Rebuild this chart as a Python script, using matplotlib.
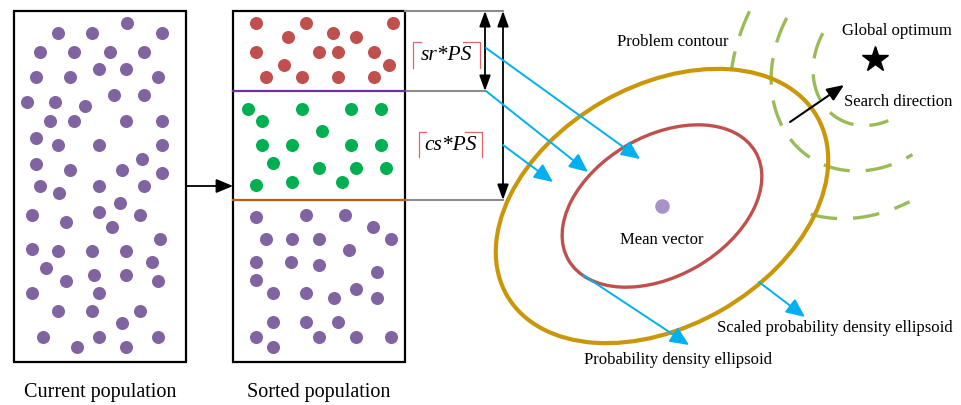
import numpy as np
import matplotlib
matplotlib.use("Agg")
import matplotlib.pyplot as plt
from matplotlib.patches import Ellipse, Rectangle

plt.rcParams["font.family"] = ["Liberation Serif", "DejaVu Serif"]

# individuals in the current population (pixel positions)
cur_x = [127, 58, 92, 162, 40, 74, 110, 144, 99, 126, 36, 70, 158, 114, 144, 27, 55, 85,
         50, 74, 126, 162, 36, 58, 99, 162, 36, 142, 70, 122, 162, 40, 59, 99, 144, 120,
         32, 99, 140, 66, 112, 160, 32, 58, 92, 126, 152, 46, 66, 94, 126, 158, 32, 99,
         58, 92, 140, 122, 43, 99, 158, 77, 126]
cur_y = [23, 33, 33, 33, 52, 52, 52, 52, 69, 69, 77, 77, 77, 95, 95, 102, 102, 106,
         121, 121, 121, 121, 138, 145, 145, 145, 164, 159, 170, 170, 173, 186, 193, 186, 186, 203,
         215, 212, 215, 222, 227, 239, 249, 251, 251, 251, 262, 268, 281, 275, 275, 281, 293, 293,
         311, 311, 311, 323, 337, 337, 337, 347, 347]

# sorted population: best (sr), selected (cs), rest
red_x = [256, 306, 393, 288, 333, 356, 256, 319, 338, 374, 284, 389, 266, 302, 338, 374]
red_y = [23, 23, 23, 37, 33, 37, 52, 52, 52, 52, 65, 65, 77, 77, 77, 77]
green_x = [248, 302, 351, 381, 262, 322, 262, 292, 351, 381, 273, 319, 356, 386, 256, 292, 342]
green_y = [109, 109, 109, 109, 121, 131, 145, 145, 145, 145, 163, 168, 168, 168, 185, 182, 182]
rest_x = [256, 306, 345, 373, 266, 292, 319, 349, 391, 256, 291, 319, 377, 256, 273, 306,
          334, 356, 377, 273, 306, 338, 256, 319, 356, 391, 273]
rest_y = [217, 215, 215, 227, 239, 239, 239, 250, 239, 262, 262, 265, 272, 280, 293, 293,
          298, 289, 298, 322, 322, 322, 337, 337, 337, 337, 347]

# sampling ellipses around the mean vector: (semi-major, semi-minor, tilt deg)
mean_xy = (662, 206)
ell_scaled = (179, 120, 30)
ell_prob = (108, 70, 30)

# problem contour arcs around the optimum: (a, b, t_start, t_end)
optimum = (875, 59)
contour_tilt = 123.5
contour_arcs = [(70, 58, -51, 84), (118, 97, -60, 83), (170, 133, 59, 80), (170, 133, -54, -14)]

purple = "#8064a2"
red = "#c0504d"
green = "#00b050"
gold = "#c9980a"
cyan = "#00b0f0"
olive = "#9bbb59"

fig = plt.figure(figsize=(9.62, 4.05), dpi=100)
ax = fig.add_axes([0, 0, 1, 1])
ax.set_xlim(0, 962)
ax.set_ylim(405, 0)
ax.axis("off")

dot = 88
# population boxes
ax.add_patch(Rectangle((14, 11), 172, 351, fill=False, ec="k", lw=1.6, zorder=2))
ax.add_patch(Rectangle((233, 11), 172, 351, fill=False, ec="k", lw=1.6, zorder=2))
ax.scatter(cur_x, cur_y, s=dot, color=purple, lw=0, zorder=3)
ax.scatter(red_x, red_y, s=dot, color=red, lw=0, zorder=3)
ax.scatter(green_x, green_y, s=dot, color=green, lw=0, zorder=3)
ax.scatter(rest_x, rest_y, s=dot, color=purple, lw=0, zorder=3)
ax.plot([233, 405], [91, 91], color="#7030a0", lw=1.6, zorder=3)
ax.plot([233, 405], [200, 200], color="#c55a11", lw=1.6, zorder=3)

ax.annotate("", xy=(233, 186), xytext=(186, 186),
            arrowprops=dict(arrowstyle="-|>,head_length=0.6,head_width=0.25", mutation_scale=17,
                            color="k", lw=1.3, shrinkA=0, shrinkB=0))

# gray guide lines and the size arrows
ax.plot([405, 503], [11, 11], color="#8c8c8c", lw=1.5)
ax.plot([405, 485], [91, 91], color="#8c8c8c", lw=1.5)
ax.plot([405, 503], [200, 200], color="#8c8c8c", lw=1.5)
for x, y0, y1 in [(485, 11, 91), (503, 11, 200)]:
    ax.annotate("", xy=(x, y1), xytext=(x, y0),
                arrowprops=dict(arrowstyle="<|-|>,head_length=0.55,head_width=0.2",
                                mutation_scale=17, color="k", lw=1.3, shrinkA=0, shrinkB=0))

# bracketed labels
for txt, x0, x1, xl, xr, y0, y1 in [("sr*PS", 413, 480, 421, 463, 42, 68),
                                    ("cs*PS", 419, 482, 426, 465, 132, 157)]:
    ax.plot([x0, x0, xl], [y1, y0, y0], color="#e06666", lw=0.9)
    ax.plot([xr, x1, x1], [y0, y0, y1], color="#e06666", lw=0.9)
    ax.text((x0 + x1) / 2, (y0 + y1) / 2 + 1, txt, fontsize=15.5, style="italic",
            ha="center", va="center")

# ellipses
ax.add_patch(Ellipse(mean_xy, 2 * ell_scaled[0], 2 * ell_scaled[1], angle=-ell_scaled[2],
                     fill=False, ec=gold, lw=3, zorder=4))
ax.add_patch(Ellipse(mean_xy, 2 * ell_prob[0], 2 * ell_prob[1], angle=-ell_prob[2],
                     fill=False, ec=red, lw=2.4, zorder=4))
ax.scatter([mean_xy[0]], [mean_xy[1]], s=110, color="#a694c8", lw=0, zorder=5)

# problem contour arcs
phi = np.radians(contour_tilt)
u = np.array([np.cos(phi), np.sin(phi)])
v = np.array([-np.sin(phi), np.cos(phi)])
for a, b, t0, t1 in contour_arcs:
    t = np.radians(np.linspace(t1, t0, 200))
    xs = optimum[0] + a * np.cos(t) * u[0] + b * np.sin(t) * v[0]
    ys = optimum[1] + a * np.cos(t) * u[1] + b * np.sin(t) * v[1]
    ax.plot(xs, ys, color=olive, lw=2.4, ls=(0, (8, 4.8)), zorder=3)

ax.plot([optimum[0]], [optimum[1]], marker="*", color="k", ms=19, zorder=6)
ax.annotate("", xy=(844, 85), xytext=(790, 122),
            arrowprops=dict(arrowstyle="-|>,head_length=0.6,head_width=0.25", mutation_scale=17,
                            color="k", lw=1.5, shrinkA=0, shrinkB=0), zorder=6)

# cyan pointers
cyan_arrows = [((486, 48), (640, 159)), ((486, 91), (588, 172)), ((503, 145), (553, 182)),
               ((583, 275), (689, 345)), ((759, 282), (805, 317))]
for start, end in cyan_arrows:
    ax.annotate("", xy=end, xytext=start,
                arrowprops=dict(arrowstyle="-|>,head_length=0.6,head_width=0.27",
                                mutation_scale=19, color=cyan, lw=1.4, shrinkA=0, shrinkB=0),
                zorder=5)

# labels
ax.text(100, 392, "Current population", fontsize=14.5, ha="center", va="center")
ax.text(319, 393, "Sorted population", fontsize=14.5, ha="center", va="center")
ax.text(673, 42, "Problem contour", fontsize=12, ha="center", va="center")
ax.text(897, 31, "Global optimum", fontsize=12, ha="center", va="center")
ax.text(898, 102, "Search direction", fontsize=12, ha="center", va="center")
ax.text(662, 240, "Mean vector", fontsize=12, ha="center", va="center")
ax.text(835, 328, "Scaled probability density ellipsoid", fontsize=12, ha="center", va="center")
ax.text(678, 360, "Probability density ellipsoid", fontsize=12, ha="center", va="center")

plt.savefig("out.png", dpi=100)
plt.close(fig)
